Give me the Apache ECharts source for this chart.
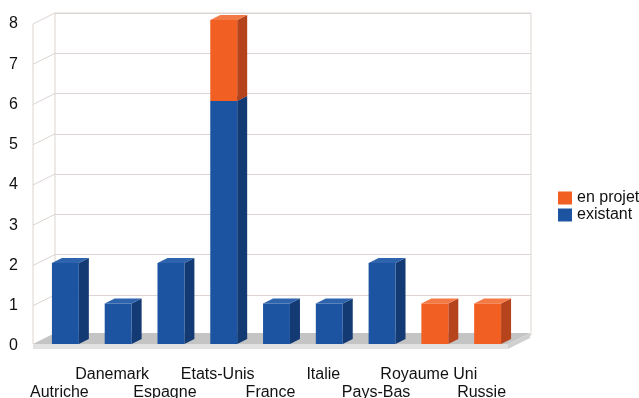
<!DOCTYPE html>
<html>
<head>
<meta charset="utf-8">
<script src="https://cdn.jsdelivr.net/npm/echarts@6/dist/echarts.min.js"></script>
<style>
html,body{margin:0;padding:0;background:#fff;}
#chart{width:639px;height:398px;}
</style>
</head>
<body>
<div id="chart"></div>
<script>
const categories = ['Autriche','Danemark','Espagne','Etats-Unis','France','Italie','Pays-Bas','Royaume Uni','Russie'];
const existant = [2,1,2,6,1,1,2,0,0];
const enProjet = [0,0,0,2,0,0,0,1,1];
const yTicks = [0,1,2,3,4,5,6,7,8];

const FONT = '"Liberation Sans", Arial, sans-serif';
const TEXT_COLOR = '#111111';
const GRID_COLOR = '#dcd5d1';
const DX = 22, DY = -11;      // room depth
const BDX = 10, BDY = -5;     // bar depth

const COLORS = {
  existant: {front:'#1d54a1', side:'#133a72', top:'#2e63ad'},
  projet:   {front:'#f15f23', side:'#b5431b', top:'#f47a45'}
};

function barRender(colors) {
  return function (params, api) {
    const i = api.value(0), b = api.value(1), t = api.value(2);
    if (!(t > b)) return null;
    const pt = api.coord([i, t]), pb = api.coord([i, b]);
    const bw = api.size([1, 0])[0] * 0.51;
    const x1 = pt[0] - bw / 2, x2 = x1 + bw, yt = pt[1], yb = pb[1];
    return {
      type: 'group',
      children: [
        {type:'polygon', shape:{points:[[x2,yt],[x2+BDX,yt+BDY],[x2+BDX,yb+BDY],[x2,yb]]}, style:{fill:colors.side}},
        {type:'polygon', shape:{points:[[x1,yt],[x1+BDX,yt+BDY],[x2+BDX,yt+BDY],[x2,yt]]}, style:{fill:colors.top}},
        {type:'rect', shape:{x:x1, y:yt, width:bw, height:yb-yt}, style:{fill:colors.front}}
      ]
    };
  };
}

function roomRender(params, api) {
  const cs = params.coordSys;
  const x = cs.x, w = cs.width;
  const y0 = api.coord([0, 0])[1] - 2;
  const children = [];
  children.push({type:'line', shape:{x1:x, y1:api.coord([0, yTicks[yTicks.length-1]])[1], x2:x, y2:y0}, style:{stroke:GRID_COLOR, lineWidth:1}});
  yTicks.forEach(function (v) {
    const yy = api.coord([0, v])[1];
    children.push({type:'line', shape:{x1:x, y1:yy, x2:x+DX, y2:yy+DY}, style:{stroke:GRID_COLOR, lineWidth:1}});
  });
  const T = 5;
  children.push({type:'polygon', shape:{points:[[x,y0],[x+w,y0],[x+w+DX,y0+DY],[x+DX,y0+DY]]}, style:{fill:'#c4c4c4'}});
  children.push({type:'rect', shape:{x:x, y:y0, width:w, height:T}, style:{fill:'#e2e2e2'}});
  children.push({type:'polygon', shape:{points:[[x+w,y0],[x+w+DX,y0+DY],[x+w+DX,y0+DY+T],[x+w,y0+T]]}, style:{fill:'#d0d0d0'}});
  return {type:'group', children:children};
}

const chart = echarts.init(document.getElementById('chart'), null, {renderer:'canvas'});
chart.setOption({
  animation: false,
  backgroundColor: '#ffffff',
  textStyle: {fontFamily: FONT},
  grid: [
    {left:55, right:108, top:13, bottom:63, show:true, borderColor:GRID_COLOR, borderWidth:1, backgroundColor:'transparent', containLabel:false, outerBoundsMode:'none'},
    {left:33, right:131, top:24, bottom:52, containLabel:false, outerBoundsMode:'none'},
    {left:39, right:125, top:20, bottom:54, containLabel:false, outerBoundsMode:'none'}
  ],
  xAxis: [
    {type:'category', gridIndex:0, data:categories, show:false},
    {type:'category', gridIndex:1, data:categories,
      axisLine:{show:false}, axisTick:{show:false},
      axisLabel:{interval:0, margin:20, color:TEXT_COLOR, fontSize:16, fontFamily:FONT, lineHeight:18,
        formatter:function (v, idx) { return idx % 2 === 0 ? '\n' + v : v; }}},
    {type:'category', gridIndex:2, data:categories, show:false}
  ],
  yAxis: [
    {type:'value', gridIndex:0, min:0, max:8, interval:1,
      axisLine:{show:false}, axisTick:{show:false}, axisLabel:{show:false},
      splitLine:{show:true, lineStyle:{color:GRID_COLOR, width:1}}},
    {type:'value', gridIndex:1, min:0, max:8, interval:1,
      axisLine:{show:false}, axisTick:{show:false}, splitLine:{show:false},
      axisLabel:{margin:15, color:TEXT_COLOR, fontSize:16, fontFamily:FONT}},
    {type:'value', gridIndex:2, min:0, max:8, interval:1, show:false, splitLine:{show:false}}
  ],
  legend: {
    orient:'vertical', left:553, top:185, itemWidth:14, itemHeight:13, itemGap:1,
    icon:'rect',
    textStyle:{fontSize:16, color:TEXT_COLOR, fontFamily:FONT},
    data:[
      {name:'en projet', itemStyle:{color:COLORS.projet.front}},
      {name:'existant', itemStyle:{color:COLORS.existant.front}}
    ]
  },
  series: [
    {type:'custom', name:'room', xAxisIndex:1, yAxisIndex:1, z:1, silent:true,
      renderItem: roomRender, data:[[0, 0]]},
    {type:'custom', name:'existant', xAxisIndex:2, yAxisIndex:2, z:3,
      itemStyle:{color:COLORS.existant.front},
      renderItem: barRender(COLORS.existant),
      encode:{x:0, y:[1,2]},
      data: categories.map(function (c, i) { return [i, 0, existant[i]]; })},
    {type:'custom', name:'en projet', xAxisIndex:2, yAxisIndex:2, z:4,
      itemStyle:{color:COLORS.projet.front},
      renderItem: barRender(COLORS.projet),
      encode:{x:0, y:[1,2]},
      data: categories.map(function (c, i) { return [i, existant[i], existant[i] + enProjet[i]]; })}
  ]
});
</script>
</body>
</html>
